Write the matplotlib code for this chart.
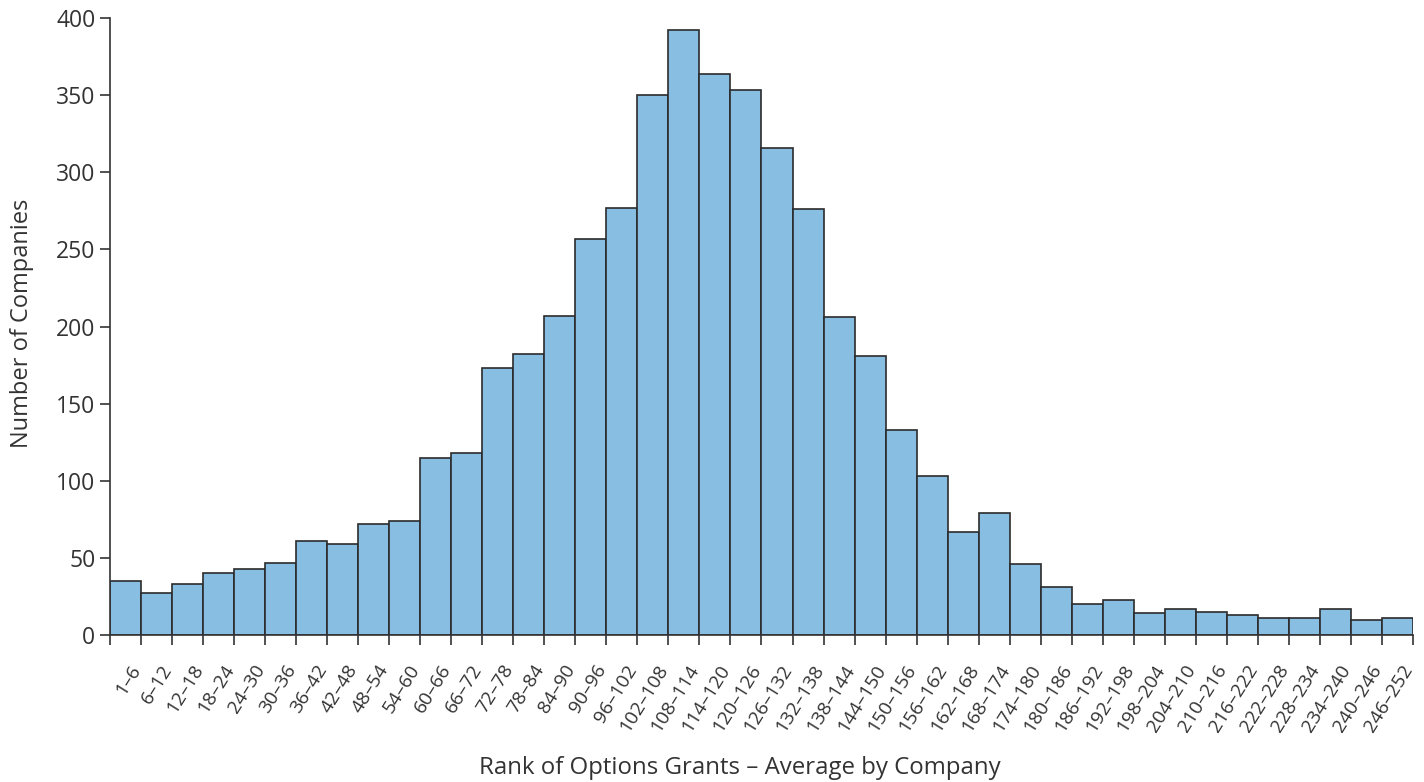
import matplotlib.pyplot as plt
import numpy as np

labels = ['1–6', '6–12', '12–18', '18–24', '24–30', '30–36', '36–42', '42–48', '48–54', '54–60',
          '60–66', '66–72', '72–78', '78–84', '84–90', '90–96', '96–102', '102–108', '108–114', '114–120',
          '120–126', '126–132', '132–138', '138–144', '144–150', '150–156', '156–162', '162–168', '168–174',
          '174–180', '180–186', '186–192', '192–198', '198–204', '204–210', '210–216', '216–222', '222–228',
          '228–234', '234–240', '240–246', '246–252']
counts = [35, 27, 33, 40, 43, 47, 61, 59, 72, 74,
          115, 118, 173, 182, 207, 257, 277, 350, 392, 364,
          353, 316, 276, 206, 181, 133, 103, 67, 79,
          46, 31, 20, 23, 14, 17, 15, 13, 11,
          11, 17, 10, 11]

plt.rcParams['font.family'] = ['Open Sans', 'DejaVu Sans']
dark = '#333333'

fig = plt.figure(figsize=(14.24, 7.82), dpi=100)
ax = fig.add_axes([110 / 1424, 1 - 635 / 782, 1303 / 1424, 617 / 782])

x = np.arange(len(counts))
ax.bar(x, counts, width=1.0, color='#89bee3', edgecolor='#2b2b2b', linewidth=1.2)

ax.set_xlim(-0.5, len(counts) - 0.5)
ax.set_ylim(0, 400)
ax.set_yticks(range(0, 401, 50))

ax.set_xticks(x + 0.12)
ax.set_xticklabels(labels, rotation=58, ha='right', rotation_mode='anchor', fontsize=13.8, color=dark)
ax.set_xticks(np.arange(len(counts) + 1) - 0.5, minor=True)
ax.tick_params(axis='x', which='major', length=0, pad=19)
ax.tick_params(axis='x', which='minor', length=7, width=1.2, color=dark)
ax.tick_params(axis='y', length=7, width=1.2, color=dark, labelsize=16.5, labelcolor=dark)

for s in ['top', 'right']:
    ax.spines[s].set_visible(False)
for s in ['left', 'bottom']:
    ax.spines[s].set_color(dark)
    ax.spines[s].set_linewidth(1.2)

ax.set_ylabel('Number of Companies', fontsize=17, color=dark)
ax.set_xlabel('Rank of Options Grants – Average by Company', fontsize=17.3, color=dark)
ax.yaxis.set_label_coords(-0.058, 0.505)
ax.xaxis.set_label_coords(0.483, -0.196)

fig.savefig('out.png', dpi=100)
